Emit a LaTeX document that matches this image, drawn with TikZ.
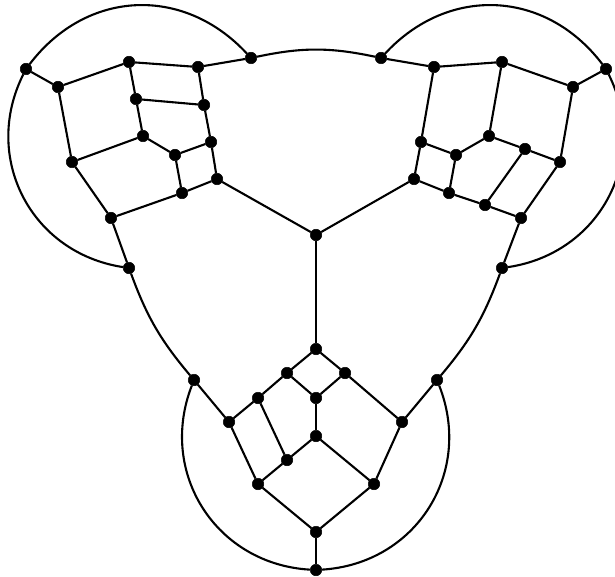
\documentclass[tikz,border=0pt]{standalone}
\usetikzlibrary{positioning}

\begin{document}
\begin{tikzpicture}[x=1pt, y=-1pt, line width=2.1pt]
\tikzset{dot/.style={draw, fill=black, circle, minimum size=11.5pt, inner sep=0, line width=0.5pt}, loop/.style={looseness=1.1}}
\useasboundingbox (0,0) rectangle (615,577);
\node[dot] (C) at (316,235) {};
% left block
\node[dot] (L1) at (26,69) {}; \node[dot] (L2) at (58,87) {}; \node[dot] (L3) at (129,62) {};
\node[dot] (L4) at (198,67) {}; \node[dot] (L5) at (251,58) {}; \node[dot] (L6) at (136,99) {};
\node[dot] (L7) at (204,105) {}; \node[dot] (L8) at (143,136) {}; \node[dot] (L9) at (211,142) {};
\node[dot] (L10) at (175,155) {}; \node[dot] (L11) at (72,162) {}; \node[dot] (L12) at (217,179) {};
\node[dot] (L13) at (182,193) {}; \node[dot] (L14) at (111,218) {}; \node[dot] (L15) at (129,268) {};
% right block
\node[dot] (R1) at (606,69) {}; \node[dot] (R2) at (573,87) {}; \node[dot] (R3) at (502,62) {};
\node[dot] (R4) at (434,67) {}; \node[dot] (R5) at (381,58) {}; \node[dot] (R6) at (489,136) {};
\node[dot] (R7) at (421,142) {}; \node[dot] (R8) at (456,155) {}; \node[dot] (R9) at (525,149) {};
\node[dot] (R10) at (485,205) {}; \node[dot] (R11) at (560,162) {}; \node[dot] (R12) at (414,179) {};
\node[dot] (R13) at (449,193) {}; \node[dot] (R14) at (521,218) {}; \node[dot] (R15) at (502,268) {};
% bottom block
\node[dot] (B1) at (316,349) {}; \node[dot] (B2) at (287,373) {}; \node[dot] (B3) at (345,373) {};
\node[dot] (B4) at (316,398) {}; \node[dot] (B5) at (258,398) {}; \node[dot] (B6) at (229,422) {};
\node[dot] (B7) at (402,422) {}; \node[dot] (B8) at (316,436) {}; \node[dot] (B9) at (287,460) {};
\node[dot] (B10) at (258,484) {}; \node[dot] (B11) at (374,484) {}; \node[dot] (B12) at (316,532) {};
\node[dot] (B13) at (316,570) {}; \node[dot] (B14) at (194,380) {}; \node[dot] (B15) at (437,380) {};
% edges
\draw (L1) -- (L2); \draw (L2) -- (L3); \draw (L3) -- (L4); \draw (L4) -- (L5); \draw (L3) -- (L6);
\draw (L6) -- (L7); \draw (L4) -- (L7); \draw (L6) -- (L8); \draw (L7) -- (L9); \draw (L8) -- (L10);
\draw (L9) -- (L10); \draw (L8) -- (L11); \draw (L2) -- (L11); \draw (L9) -- (L12); \draw (L10) -- (L13);
\draw (L12) -- (L13); \draw (L11) -- (L14); \draw (L13) -- (L14); \draw (L14) -- (L15); \draw (L12) -- (C);
\draw (R1) -- (R2); \draw (R2) -- (R3); \draw (R3) -- (R4); \draw (R4) -- (R5); \draw (R4) -- (R7);
\draw (R3) -- (R6); \draw (R2) -- (R11); \draw (R7) -- (R8); \draw (R8) -- (R6); \draw (R6) -- (R9);
\draw (R9) -- (R11); \draw (R7) -- (R12); \draw (R8) -- (R13); \draw (R12) -- (R13); \draw (R13) -- (R10);
\draw (R10) -- (R14); \draw (R9) -- (R10); \draw (R11) -- (R14); \draw (R14) -- (R15); \draw (R12) -- (C);
\draw (C) -- (B1); \draw (B1) -- (B2); \draw (B1) -- (B3); \draw (B2) -- (B4); \draw (B3) -- (B4);
\draw (B2) -- (B5); \draw (B5) -- (B6); \draw (B6) -- (B14); \draw (B3) -- (B7); \draw (B7) -- (B15);
\draw (B4) -- (B8); \draw (B5) -- (B9); \draw (B8) -- (B9); \draw (B8) -- (B11); \draw (B9) -- (B10);
\draw (B6) -- (B10); \draw (B10) -- (B12); \draw (B11) -- (B12); \draw (B7) -- (B11); \draw (B12) -- (B13);
% outer arcs
\draw (L1) to[bend left=50, loop] (L5); \draw (L1) to[bend right=54, loop] (L15);
\draw (R5) to[bend left=50, loop] (R1); \draw (R1) to[bend left=54, loop] (R15);
\draw (B14) to[bend right=54, loop] (B13); \draw (B15) to[bend left=54, loop] (B13);
\draw (L5) to[bend left=12] (R5); \draw (L15) to[bend right=10] (B14); \draw (R15) to[bend left=10] (B15);
\end{tikzpicture}
\end{document}
